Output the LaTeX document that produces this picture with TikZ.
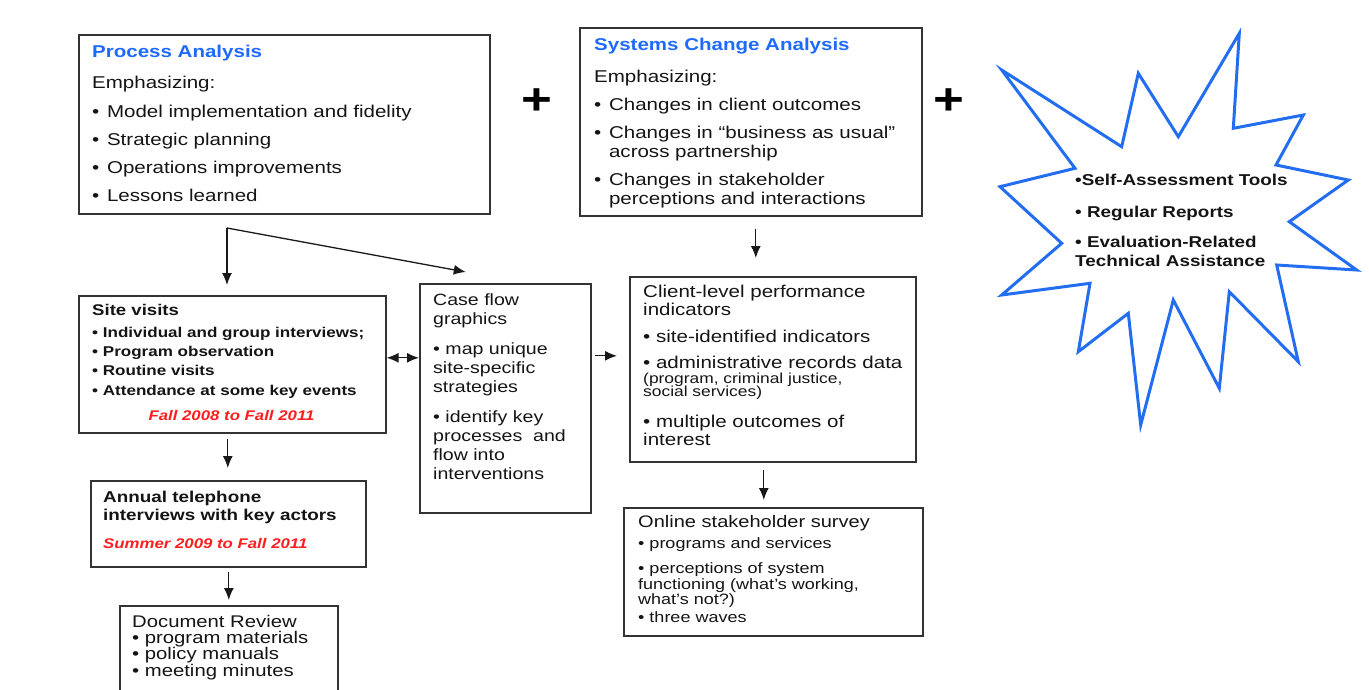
\documentclass[tikz,border=0pt]{standalone}
\usepackage{fontspec}
\setmainfont{Liberation Sans}[FakeStretch=1.2]
\usetikzlibrary{arrows.meta}
\definecolor{headblue}{RGB}{30,105,255}
\definecolor{datered}{RGB}{255,30,30}
\definecolor{starblue}{RGB}{35,110,240}
\newcommand{\bu}{\textbullet\hspace{.45em}}
\newcommand{\ind}{\phantom{\bu}}
\begin{document}
\begin{tikzpicture}[x=1pt,y=-1pt,
    box/.style={draw=black!80,line width=1.6pt,inner sep=0pt,anchor=north west},
    txt/.style={inner sep=0pt,anchor=north west,align=left,text=black!92},
    arr/.style={-{Latex[length=12pt,width=10pt]},line width=1.3pt,black!90}]
\useasboundingbox (0,0) rectangle (1369,689);

% boxes
\node[box,minimum width=411pt,minimum height=179pt] (process) at (78,34) {};
\node[box,minimum width=342pt,minimum height=188pt] (sys) at (579,27) {};
\node[box,minimum width=307pt,minimum height=137pt] (site) at (78,295) {};
\node[box,minimum width=171pt,minimum height=229pt] (case) at (419,283) {};
\node[box,minimum width=286pt,minimum height=185pt] (client) at (629,276) {};
\node[box,minimum width=299pt,minimum height=128pt] (online) at (623,507) {};
\node[box,minimum width=275pt,minimum height=86pt] (annual) at (90,480) {};
\node[box,minimum width=218pt,minimum height=95pt] (doc) at (119,605) {};

% texts
\node[txt,font=\fontsize{17.1}{28}\selectfont] (processtxt) at (92,44.7) {%
  {\bfseries\color{headblue}Process Analysis}\\[3pt]
  Emphasizing:\\[1pt]
  \bu Model implementation and fidelity\\
  \bu Strategic planning\\
  \bu Operations improvements\\
  \bu Lessons learned};
\node[txt,font=\fontsize{17.1}{19}\selectfont] (systxt) at (594,37.7) {%
  {\bfseries\color{headblue}Systems Change Analysis}\\[13pt]
  Emphasizing:\\[9pt]
  \bu Changes in client outcomes\\[9pt]
  \bu Changes in “business as usual”\\
  \ind across partnership\\[9pt]
  \bu Changes in stakeholder\\
  \ind perceptions and interactions};
\node[txt,font=\fontsize{14.2}{19.3}\selectfont\bfseries] (sitetxt) at (92,303.9) {%
  {\fontsize{15.5}{19.3}\selectfont Site visits}\\[2.7pt]
  • Individual and group interviews;\\
  • Program observation\\
  • Routine visits\\
  • Attendance at some key events};
\node[anchor=base,inner sep=0pt,text=datered,font=\fontsize{14}{16}\selectfont\bfseries\itshape] (sitedate) at (231.5,420) {Fall 2008 to Fall 2011};
\node[txt,font=\fontsize{15.7}{18}\selectfont\bfseries] (annualtxt) at (103,490.8) {%
  Annual telephone\\
  interviews with key actors\\[10pt]
  {\fontsize{14}{16}\selectfont\itshape\color{datered}Summer 2009 to Fall 2011}};
\node[txt,font=\fontsize{16.9}{16.3}\selectfont] (doctxt) at (132,614.9) {%
  Document Review\\
  • program materials\\
  • policy manuals\\
  • meeting minutes};
\node[txt,font=\fontsize{16.3}{19}\selectfont] (casetxt) at (433,293.3) {%
  Case flow\\
  graphics\\[11pt]
  • map unique\\
  site-specific\\
  strategies\\[11pt]
  • identify key\\
  processes~~and\\
  flow into\\
  interventions};
\node[txt,font=\fontsize{17.1}{18}\selectfont] (clienttxt) at (643,284.8) {%
  Client-level performance\\
  indicators\\[9pt]
  • site-identified indicators\\[8pt]
  • administrative records data\\[-3pt]
  {\fontsize{14.5}{13}\selectfont (program, criminal justice,}\\[-5pt]
  {\fontsize{14.5}{13}\selectfont social services)}\\[13pt]
  • multiple outcomes of\\
  interest};
\node[txt,font=\fontsize{15}{15.5}\selectfont] (onlinetxt) at (638,515) {%
  {\fontsize{16.7}{18}\selectfont Online stakeholder survey}\\[6pt]
  • programs and services\\[9.5pt]
  • perceptions of system\\
  functioning (what's working,\\
  what's not?)\\[2.5pt]
  • three waves};

% plus signs
\node[font=\fontsize{44}{44}\selectfont\bfseries] (plusA) at (537,102) {+};
\node[font=\fontsize{44}{44}\selectfont\bfseries] (plusB) at (949,102) {+};

% star
\draw[starblue,line width=3pt,line join=miter]
  (1001.7,70) -- (1121.7,146.7) -- (1138.3,73.3) -- (1178.3,136.7) -- (1239.3,33.3)
  -- (1233.3,128.3) -- (1303.3,115) -- (1276,165) -- (1348.3,180) -- (1289.3,221.7)
  -- (1356.7,270) -- (1276.7,265) -- (1298.3,361.7) -- (1229.3,291.7) -- (1219.3,388.3)
  -- (1173.3,300) -- (1140.7,425) -- (1128.3,313.3) -- (1078.3,351.7) -- (1090,283.3)
  -- (1001.7,295) -- (1061.7,243.3) -- (1000,186.7) -- (1075,168.3) -- cycle;
\node[txt,font=\fontsize{15.7}{19}\selectfont\bfseries] (tools) at (1075,173.8) {%
  •Self-Assessment Tools\\[13pt]
  • Regular Reports\\[11pt]
  • Evaluation-Related\\
  Technical Assistance};

% arrows
\coordinate (fork) at (227,228);
\draw[arr,shorten >=10pt] (fork) -- (fork |- site.north);
\draw[arr] (fork) -- ([xshift=-39.5,yshift=11]case.north);
\draw[arr,shorten <=5pt,shorten >=12pt] ([xshift=-4.5]site.south) -- ([xshift=-4.5]site.south |- annual.north);
\draw[arr,shorten <=4pt,shorten >=5pt] ([xshift=0.5]annual.south) -- ([xshift=0.5]annual.south |- doc.north);
\coordinate (siteout) at ([yshift=6.5]site.east);
\draw[arr,{Latex[length=12pt,width=10pt]}-{Latex[length=12pt,width=10pt]}] (siteout) -- (siteout -| case.west);
\coordinate (caseout) at ([yshift=42.5]case.east);
\draw[arr,shorten <=3pt,shorten >=12pt] (caseout) -- (caseout -| client.west);
\coordinate (sysout) at ([xshift=5]sys.south);
\draw[arr,shorten <=12pt,shorten >=18pt] (sysout) -- (sysout |- client.north);
\coordinate (clientout) at ([xshift=-9]client.south);
\draw[arr,shorten <=7pt,shorten >=7pt] (clientout) -- (clientout |- online.north);
\end{tikzpicture}
\end{document}
